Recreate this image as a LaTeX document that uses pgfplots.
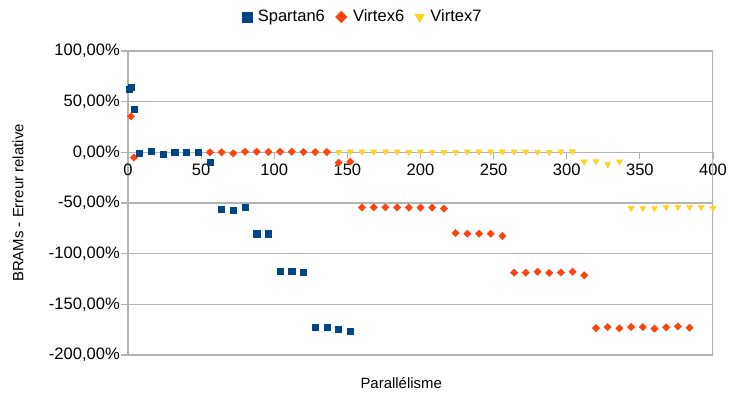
\documentclass[border=0pt]{standalone}
\usepackage{fontspec}
\setmainfont{Liberation Sans}
\usepackage{pgfplots}
\pgfplotsset{compat=1.18}
\definecolor{sblue}{HTML}{004586}
\definecolor{vorange}{HTML}{FF420E}
\definecolor{vyellow}{HTML}{FFD320}
\definecolor{gridgray}{HTML}{B3B3B3}
\begin{document}
\begin{tikzpicture}
\useasboundingbox (-96pt,-31.5pt) rectangle (451.5pt,266.25pt);
\begin{axis}[
  at={(0,0)}, anchor=south west,
  scale only axis, width=438.75pt, height=228pt,
  xmin=0, xmax=400, ymin=-200, ymax=100,
  axis x line*=middle, axis y line*=left,
  axis line style={draw=gridgray, line width=0.8pt, -},
  hide obscured x ticks=false, hide obscured y ticks=false,
  xtick={0,50,...,400},
  ytick={-200,-150,...,100},
  yticklabels={{-200,00\%},{-150,00\%},{-100,00\%},{-50,00\%},{0,00\%},{50,00\%},{100,00\%}},
  /pgf/number format/assume math mode=true,
  ymajorgrids, grid style={gridgray, line width=0.8pt},
  tick style={gridgray, line width=0.8pt},
  tick align=outside, major tick length=5pt,
  ticklabel style={font=\fontsize{12.4pt}{15pt}\selectfont},
  yticklabel style={inner sep=1pt},
  xlabel={Parallélisme}, ylabel={BRAMs - Erreur relative},
  every axis x label/.style={at={(axis description cs:0.467,-0.092)}, anchor=center, font=\fontsize{11.2pt}{13pt}\selectfont},
  every axis y label/.style={at={(axis description cs:-0.188,0.5)}, anchor=center, rotate=90, font=\fontsize{11.2pt}{13pt}\selectfont},
  legend style={draw=none, at={(axis description cs:0.402,1.112)}, anchor=center,
    legend columns=-1, font=\fontsize{12.4pt}{15pt}\selectfont,
    /tikz/every odd column/.append style={column sep=2.5pt},
    /tikz/every even column/.append style={column sep=6pt}},
  reverse legend,
  mk/.style={only marks, legend image code/.code={\draw[mark repeat=2,mark phase=2,##1,every mark/.append style={scale=1.6}] plot coordinates {(0cm,0cm) (0.17cm,0cm) (0.34cm,0cm)};}},
]
\draw[gridgray, line width=0.8pt] (rel axis cs:1,0) -- (rel axis cs:1,1);
% Virtex7
\addplot[mk, mark=triangle*, color=vyellow, mark size=2.6pt, mark options={rotate=180}] coordinates {
  (2,35.5) (56,0) (64,0) (72,-1) (80,0.6) (88,0.6) (96,0.3) (104,0.6) (112,0.6)
  (120,0.3) (128,0.3) (136,0.3)
  (144,0.3) (152,0.6) (160,0.6) (168,0.6) (176,0.6) (184,0.6) (192,0.3) (200,0.6)
  (208,0.3) (216,0.3) (224,0.3) (232,0.6) (240,0.6) (248,0.6) (256,0.6) (264,0.6)
  (272,0.6) (280,0.3) (288,0.3) (296,0.6) (304,0.9)
  (312,-9.2) (320,-8.9) (328,-11.8) (336,-9.2)
  (344,-55) (352,-55) (360,-55) (368,-54) (376,-54) (384,-54) (392,-54) (400,-55)
};
\addlegendentry{Virtex7}
% Virtex6
\addplot[mk, mark=square*, color=vorange, mark size=1.9pt, mark options={rotate=45}] coordinates {
  (2,35.5) (4,-5.2)
  (56,0) (64,0) (72,-1) (80,0.6) (88,0.6) (96,0.3) (104,0.6) (112,0.6)
  (120,0.3) (128,0.3) (136,0.3)
  (144,-10.2) (152,-9.2)
  (160,-54.3) (168,-54.3) (176,-54.3) (184,-54.3) (192,-54.5) (200,-54.5) (208,-54.5) (216,-55.6)
  (224,-79.6) (232,-80.3) (240,-80.3) (248,-80.3) (256,-82.6)
  (264,-118.8) (272,-118.8) (280,-117.8) (288,-119) (296,-118.6) (304,-117.8) (312,-121.4)
  (320,-173.4) (328,-172.4) (336,-173.7) (344,-172.4) (352,-172.4) (360,-174) (368,-172.7)
  (376,-171.8) (384,-173)
};
\addlegendentry{Virtex6}
% Spartan6
\addplot[mk, mark=square*, color=sblue, mark size=2.3pt] coordinates {
  (1,62) (2,64.5) (4,42.4)
  (8,-1.3) (16,0.7) (24,-1.7) (32,-0.3) (40,0.3) (48,0)
  (56,-10.2)
  (64,-56.6) (72,-57) (80,-54)
  (88,-80.3) (96,-80.3)
  (104,-117.5) (112,-117.5) (120,-118.5)
  (128,-172.4) (136,-172.4) (144,-175) (152,-177)
};
\addlegendentry{Spartan6}
\end{axis}
\end{tikzpicture}
\end{document}
